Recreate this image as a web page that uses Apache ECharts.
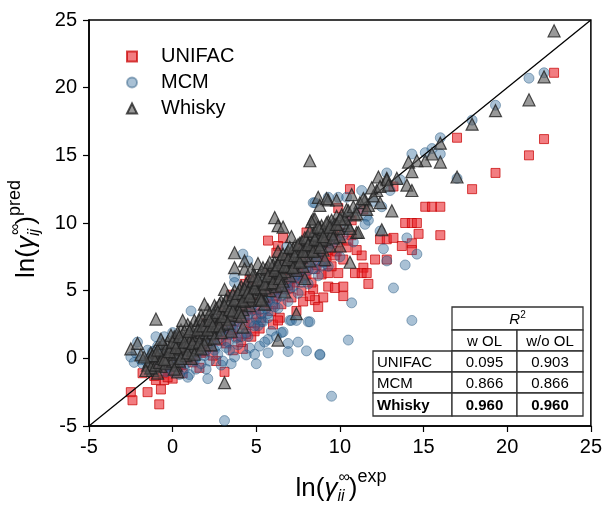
<!DOCTYPE html>
<html>
<head>
<meta charset="utf-8">
<script src="https://cdn.jsdelivr.net/npm/echarts@6/dist/echarts.min.js"></script>
<style>
  html, body { margin: 0; padding: 0; background: #fff; }
  #chart { width: 605px; height: 507px; }
</style>
</head>
<body>
<div id="chart"></div>
<script>
// Axis ranges and ticks
const axisMin = -5;
const axisMax = 25;
const axisStep = 5;

// Series names
const seriesNames = ['UNIFAC', 'MCM', 'Whisky'];

// UNIFAC predictions: [ln γ exp, ln γ pred]
const unifacPts = [
  [22.8,21.1],[22.2,16.2],[21.3,15.0],[19.3,13.7],[17.9,12.5],[17.0,16.3],[15.1,11.2],[15.5,11.2],[16.0,11.2],
  [10.6,12.5],[13.2,12.7],[13.9,10.0],[14.3,10.0],[14.6,10.0],[12.4,8.8],[12.8,8.8],[13.2,8.9],[14.7,9.2],
  [16.0,9.1],[13.7,8.3],[14.3,8.5],[14.3,8.0],[11.3,7.6],[12.1,7.3],[12.8,7.3],[11.4,6.7],[10.9,6.3],[11.3,6.3],
  [11.6,6.3],[11.7,5.5],[9.3,6.3],[9.9,6.3],[9.3,5.3],[9.7,5.2],[10.2,5.3],[10.2,4.6],[8.4,5.1],[9.0,4.5],
  [8.5,4.3],[8.7,3.8],[7.8,4.2],[9.9,11.1],[10.7,10.2],[11.4,11.0],[5.7,8.7],[6.6,8.9],[6.3,8.3],[6.2,7.8],
  [8.0,9.3],[6.0,2.5],[4.2,0.7],[4.7,1.6],[3.5,4.7],[3.1,-1.0],[4.3,5.5],[4.6,5.8],[4.8,5.3],
  [-1.8,-1.1],[-2.5,-2.5],[-2.4,-3.1],[-1.5,-2.5],[-0.7,-2.3],[-0.8,-3.4],[-1.0,-1.6],[-0.5,-1.6],[0.0,-1.5],
  [-1.3,-0.9],[-1.1,-1.3],[-0.9,-0.6],[-0.6,-1.1],[-0.4,-0.3],[-0.2,-0.9],[0.1,-0.2],[0.3,0.6],[0.5,-0.5],
  [0.7,0.3],[0.9,1.0],[1.1,0.0],[1.3,0.8],[1.5,1.5],[1.7,0.4],[1.9,1.2],[2.1,2.0],[2.3,0.9],[2.5,1.7],
  [2.7,2.5],[2.9,1.3],[3.1,2.2],[3.3,3.0],[3.5,1.8],[3.7,2.7],[3.9,3.5],[4.1,1.2],[4.3,3.1],[4.5,4.0],
  [4.7,2.6],[4.9,3.6],[5.1,4.5],[5.3,3.0],[5.5,4.1],[5.7,5.0],[5.9,3.5],[6.1,4.6],[6.3,5.5],[6.5,4.0],
  [6.7,5.1],[6.9,6.0],[7.1,4.5],[7.3,5.6],[7.5,6.5],[7.7,5.0],[7.9,6.1],[8.1,7.0],[8.3,5.6],[8.5,6.6],
  [8.7,7.5],[8.9,6.2],[9.1,7.1],[9.3,8.0],[9.5,6.8],[9.7,7.6],[9.9,8.6],[10.2,7.3],[10.4,8.2],[10.7,9.1],
  [11.0,8.0],[3.6,0.6],[2.6,-0.2],[1.6,-0.7],[4.4,1.8],[5.2,2.2],[6.4,3.0],[7.4,3.5],[8.2,4.6],[5.8,6.2],
  [4.6,5.0],[3.0,3.4],[6.8,7.3],[7.8,8.1],[2.0,2.6],[0.0,0.4],
  [1.0,0.6],[1.4,1.1],[1.8,1.7],[2.2,1.6],[2.6,2.2],[3.0,2.7],[3.4,2.7],[3.8,3.3],[4.0,3.7],[4.2,4.0],
  [4.4,3.6],[4.6,4.4],[4.8,4.2],[5.0,4.8],[5.2,4.7],[5.4,5.2],[5.6,4.9],[5.8,5.5],[6.0,5.4],[6.2,6.0],
  [6.4,5.8],[6.6,6.3],[6.8,6.1],[7.0,6.7],[7.2,6.4],[7.4,7.0],[7.6,6.9],[7.8,7.3],[8.0,7.4],[8.2,7.8],
  [8.4,7.7],[8.6,8.2],[8.8,8.0],[9.0,8.6],[9.2,8.5],[9.4,9.0],[9.6,8.9],[9.8,9.5],[10.0,9.3],[0.6,-1.1],
  [-0.3,-1.4],[0.3,-0.8],[1.2,-0.3],[2.4,0.2],[3.2,1.1],[3.9,1.6],[4.9,2.0],[6.3,2.8],[6.0,4.0],[7.0,5.2],
  [1.9,0.5],[2.8,1.9],[3.6,2.1],[4.3,2.5],[5.0,3.3],[5.6,3.9],[6.2,4.8],[6.9,5.4],[7.5,5.9],[8.0,6.2],
  [8.6,6.9],[9.2,7.5],[9.8,7.9],[10.5,8.7],[-0.8,-0.3],[-0.1,-0.5],[0.8,0.0],[1.3,1.4],[2.3,1.3],[3.3,2.3]
];

// MCM predictions
const mcmPts = [
  [22.2,21.1],[21.3,20.7],[19.3,18.7],[17.9,17.6],[16.0,16.3],[16.0,15.1],[15.1,15.2],[15.5,15.5],[14.3,15.1],
  [12.8,13.7],[17.0,13.3],[8.4,11.5],[9.3,11.9],[9.9,11.9],[10.4,11.9],[11.3,12.4],[11.6,10.5],[11.7,10.2],
  [12.4,9.4],[12.6,8.1],[12.8,7.2],[13.9,6.9],[14.0,8.9],[14.6,7.7],[13.2,5.2],[10.7,4.1],[8.1,2.7],[14.3,2.8],
  [10.5,1.35],[8.0,0.55],[8.8,0.25],[9.5,-2.8],[7.5,1.2],[6.9,0.5],[5.7,0.4],[5.0,-0.4],[6.6,1.95],[5.9,2.0],
  [5.3,2.7],[5.7,3.3],[7.0,2.8],[7.4,2.8],[5.7,1.4],[5.2,0.9],[4.6,0.76],[4.4,0.25],[3.7,0.1],[3.1,-4.6],
  [2.1,-1.5],[1.1,3.5],[-2.5,0.1],[-2.1,1.2],[-1.0,1.6],[0.0,1.9],[4.2,7.7],[4.5,7.2],[3.7,6.0],[3.7,5.6],
  [8.5,11.5],[6.8,8.2],[8.2,2.7],[7.1,2.8],[5.4,2.7],[6.5,1.9],[6.9,1.1],[8.8,0.3],
  [-1.8,-0.4],[-1.5,0.6],[-1.3,-0.9],[-1.1,0.2],[-0.8,-0.5],[-0.6,0.9],[-0.4,-1.0],[-0.2,0.3],[0.1,-0.6],
  [0.3,1.1],[0.5,0.0],[0.7,-0.8],[0.9,0.8],[1.1,1.8],[1.3,-0.2],[1.5,0.9],[1.7,2.2],[1.9,0.2],[2.1,1.5],
  [2.3,2.8],[2.5,0.6],[2.7,1.9],[2.9,-0.5],[3.1,3.0],[3.3,1.2],[3.5,2.4],[3.7,3.6],[3.9,1.0],[4.1,2.9],
  [4.3,4.3],[4.5,1.6],[4.7,3.5],[4.9,5.0],[5.1,2.4],[5.3,4.2],[5.5,5.6],[5.7,3.0],[5.9,4.8],[6.1,6.2],
  [6.3,3.7],[6.5,5.4],[6.7,6.8],[6.9,4.2],[7.1,6.0],[7.3,7.4],[7.5,4.8],[7.7,6.6],[7.9,8.0],[8.1,5.5],
  [8.3,7.2],[8.5,8.6],[8.7,6.1],[8.9,7.9],[9.1,9.2],[9.3,6.8],[9.5,8.5],[9.7,9.8],[10.0,7.5],[10.2,9.1],
  [10.5,10.4],[10.8,8.6],[11.1,10.9],[11.5,9.9],[12.0,11.6],[12.5,11.2],[13.0,12.4],[13.6,13.2],[1.0,-1.2],
  [2.0,-0.8],[3.0,-0.2],[0.0,-1.0],[-0.5,1.6],[2.6,3.4],[3.6,4.4],[4.4,5.2],
  [-1.6,-0.2],[-1.2,0.5],[-0.9,-0.2],[-0.7,0.4],[-0.3,-0.6],[0.0,0.0],[0.2,0.6],[0.4,-0.3],[0.6,0.4],
  [0.8,-0.4],[1.0,0.4],[1.2,1.0],[1.4,0.1],[1.6,0.6],[1.8,1.3],[2.0,0.6],[2.2,1.1],[2.4,1.9],[2.6,0.9],
  [2.8,1.5],[3.0,2.3],[3.2,0.8],[3.4,1.8],[3.6,2.9],[3.8,1.5],[4.0,2.2],[4.2,3.4],[4.4,1.9],[4.6,2.7],
  [4.8,4.0],[5.0,2.9],[5.2,3.6],[5.4,4.6],[5.6,3.7],[5.8,4.2],[6.0,5.2],[6.2,4.4],[6.4,5.9],[6.6,4.9],
  [6.8,5.5],[7.0,6.6],[7.2,5.3],[7.4,6.2],[7.6,7.0],[7.8,5.9],[8.0,7.0],[8.2,7.8],[8.4,6.6],[8.6,7.6],
  [8.8,8.4],[9.0,7.1],[9.4,9.0],[9.8,8.8],[10.4,9.6],[-2.3,-0.3],[-2.2,0.4],[-1.9,-0.1],[0.9,-1.4],
  [1.7,-0.4],[2.7,0.3],[3.4,0.6],[4.9,0.3],[5.5,1.2],[6.2,1.6],
  [-1.4,0.0],[-0.9,0.9],[-0.3,0.6],[0.2,-0.2],[0.6,1.2],[1.2,0.4],[1.6,1.4],[2.0,1.9],[2.4,1.3],[2.9,2.0],
  [3.3,2.0],[3.7,2.3],[4.1,1.6],[4.5,3.2],[4.9,2.4],[5.3,3.3],[5.7,4.2],[6.1,3.8],[6.5,4.6],[6.9,5.1],
  [7.3,6.0],[7.7,5.6],[8.1,6.5],[8.5,7.2],[8.9,6.8],[9.3,8.2],[0.4,-1.2],[1.4,-0.8],[2.2,-0.2],[3.5,-0.4]
];

// Whisky predictions
const whiskyPts = [
  [22.8,24.2],[22.2,20.8],[21.3,19.1],[19.3,18.3],[17.9,17.3],[16.0,15.9],[16.0,14.5],[15.5,15.1],[15.1,14.6],
  [14.6,14.6],[14.1,14.5],[14.3,13.8],[17.0,13.4],[8.2,14.6],[12.3,13.4],[12.8,13.3],[14.0,12.8],[14.3,12.4],
  [13.1,10.9],[12.4,11.5],[8.7,11.9],[9.3,11.7],[9.8,11.7],[8.4,10.3],[10.7,12.1],[11.0,9.3],[12.5,9.5],
  [6.1,10.4],[6.3,9.8],[6.6,9.7],[3.7,7.8],[3.7,6.7],[4.3,7.2],[4.3,6.6],[7.4,3.3],[6.3,1.35],[4.2,2.3],
  [-1.0,2.9],[3.1,-1.8],[-2.5,0.7],[-2.1,1.1],[-1.9,0.25],[11.5,11.7],[11.7,11.3],[12.2,12.4],[12.8,13.2],
  [10.5,9.8],[11.1,9.3],[10.6,7.1],[10.0,8.3],[8.8,11.3],[9.2,11.8],[8.5,10.3],[-1.3,-0.7],
  [-1.5,-0.5],[-1.3,0.4],[-1.2,-0.9],[-1.0,0.0],[-0.8,0.8],[-0.7,-0.6],[-0.5,0.3],[-0.3,1.2],[-0.2,-0.3],
  [0.0,0.6],[0.1,1.6],[0.2,-0.5],[0.4,1.0],[0.5,2.1],[0.6,0.3],[0.8,1.4],[0.9,2.5],[1.0,0.7],[1.2,1.8],
  [1.3,2.8],[1.4,1.0],[1.6,2.2],[1.7,3.2],[1.8,1.4],[2.0,2.5],[2.1,3.6],[2.2,1.8],[2.4,2.9],[2.5,3.9],
  [2.6,2.1],[2.8,3.2],[2.9,4.2],[3.0,2.5],[3.2,3.6],[3.3,4.6],[3.4,2.9],[3.6,4.0],[3.7,5.0],[3.8,3.2],
  [4.0,4.3],[4.1,5.3],[4.2,3.6],[4.4,4.7],[4.5,5.7],[4.6,3.9],[4.8,5.0],[4.9,6.1],[5.0,4.3],[5.2,5.4],
  [5.3,6.4],[5.4,4.6],[5.6,5.8],[5.7,6.8],[5.8,5.0],[6.0,6.1],[6.1,7.1],[6.2,5.3],[6.4,6.5],[6.5,7.5],
  [6.6,5.7],[6.8,6.9],[6.9,7.9],[7.0,6.1],[7.2,7.3],[7.3,8.3],[7.4,6.5],[7.6,7.6],[7.7,8.6],[7.8,6.8],
  [8.0,8.0],[8.1,9.0],[8.2,7.2],[8.4,8.4],[8.5,9.4],[8.6,7.6],[8.8,8.8],[8.9,9.8],[9.0,8.0],[9.2,9.1],
  [9.3,10.1],[9.4,8.3],[9.6,9.5],[9.8,10.5],[10.0,9.0],[10.2,10.0],[10.4,11.0],[10.6,9.6],[10.9,10.6],
  [11.2,11.5],[11.6,11.0],[12.0,12.0],[0.3,-1.0],[1.1,0.0],[2.3,1.0],[3.5,2.0],[-0.9,-1.1],[5.5,4.0],
  [6.7,4.9],[7.9,5.9],[9.1,7.3],[4.7,6.6],[3.1,5.1],[1.9,4.0],[0.6,2.8],[8.3,10.1],[7.1,9.0],[6.3,7.9],[5.1,7.0],
  [-1.4,-0.2],[-1.3,-0.7],[-1.1,0.5],[-1.0,-0.5],[-0.9,0.2],[-0.8,-0.3],[-0.6,1.1],[-0.6,0.0],[-0.4,-0.4],
  [-0.4,0.7],[-0.3,0.0],[-0.1,0.9],[-0.1,1.7],[0.0,-0.2],[0.1,0.3],[0.2,1.2],[0.3,0.4],[0.3,1.9],[0.4,-0.2],
  [0.5,0.7],[0.6,1.5],[0.7,0.9],[0.7,2.0],[0.8,0.2],[0.9,1.7],[1.0,1.2],[1.1,2.2],[1.2,0.6],[1.3,1.4],
  [1.4,2.4],[1.5,1.7],[1.5,0.8],[1.6,2.8],[1.7,1.9],[1.8,2.9],[1.9,2.2],[2.0,1.4],[2.1,2.8],[2.2,3.3],
  [2.3,2.3],[2.4,1.9],[2.5,3.1],[2.6,3.7],[2.7,2.6],[2.8,4.0],[2.9,3.0],[3.0,3.7],[3.1,2.9],[3.2,4.3],
  [3.3,3.3],[3.4,4.1],[3.5,3.2],[3.6,4.7],[3.7,3.8],[3.8,4.4],[3.9,3.6],[4.0,5.1],[4.1,4.0],[4.2,4.8],
  [4.3,4.2],[4.4,5.5],[4.5,4.5],[4.6,5.2],[4.7,4.3],[4.8,5.7],[4.9,4.8],[5.0,5.6],[5.1,4.9],[5.2,6.2],
  [5.3,5.1],[5.4,5.9],[5.5,5.2],[5.6,6.6],[5.7,5.6],[5.8,6.3],[5.9,5.5],[6.0,6.9],[6.1,5.9],[6.2,6.7],
  [6.3,6.0],[6.4,7.3],[6.5,6.3],[6.6,7.1],[6.7,6.4],[6.8,7.7],[6.9,6.7],[7.0,7.5],[7.1,6.8],[7.2,8.1],
  [7.3,7.1],[7.4,7.9],[7.5,7.2],[7.6,8.5],[7.7,7.5],[7.8,8.3],[7.9,7.6],[8.0,8.8],[8.1,7.9],[8.2,8.7],
  [8.3,8.0],[8.4,9.2],[8.5,8.3],[8.6,9.1],[8.7,8.4],[8.8,9.6],[8.9,8.7],[9.0,9.5],[9.1,8.8],[9.3,9.4],
  [9.5,9.2],[9.5,10.2],[9.7,9.9],[9.9,9.6],[10.1,10.6],[10.3,10.3],[10.5,10.9],[10.8,11.2],[11.0,10.7],
  [11.4,11.8],[11.9,12.6],[12.4,12.7],[12.9,12.8],[13.4,13.3],
  [-1.2,0.2],[-0.9,0.6],[-0.7,1.4],[-0.5,-0.1],[-0.2,0.5],[0.0,1.2],[0.2,0.8],[0.4,1.6],[0.5,0.0],[0.7,1.2],
  [0.9,0.4],[1.0,2.0],[1.2,1.1],[1.3,0.3],[1.5,2.1],[1.6,1.2],[1.8,2.4],[1.9,1.0],[2.1,2.1],[2.2,2.8],
  [2.4,2.4],[2.5,1.5],[2.7,3.4],[2.8,2.4],[3.0,3.1],[3.1,3.9],[3.3,2.6],[3.4,3.6],[3.6,3.5],[3.7,4.3],
  [3.9,4.8],[4.0,3.4],[4.2,4.3],[4.3,5.1],[4.5,4.9],[4.6,4.6],[4.8,6.1],[4.9,5.2],[5.1,5.8],[5.2,4.4],
  [5.4,6.7],[5.5,5.5],[5.7,6.1],[5.8,7.1],[6.0,5.6],[6.1,6.5],[6.3,6.9],[6.4,5.9],[6.6,7.7],[6.7,6.8],
  [6.9,7.3],[7.0,8.2],[7.2,6.7],[7.3,7.6],[7.5,8.4],[7.6,7.1],[7.8,7.9],[7.9,8.9],[8.1,8.4],[8.2,9.4],
  [8.4,7.9],[8.5,8.8],[8.7,9.7],[8.8,8.2],[9.0,9.0],[9.2,10.0],[9.4,9.7],[9.6,8.9],[9.8,9.9],[10.0,10.3],
  [-1.6,-0.9],[-1.7,0.1],[0.1,-0.8],[1.7,0.7],[2.9,1.9],[4.1,3.1],[5.3,4.3],[6.5,5.4]
];

// Parity line end points
const parityLine = [[axisMin, axisMin], [axisMax, axisMax]];

// R² summary table
const tableHeader = ['w OL', 'w/o OL'];
const tableRows = [
  ['UNIFAC', '0.095', '0.903'],
  ['MCM', '0.866', '0.866'],
  ['Whisky', '0.960', '0.960']
];

const FONT = '"Liberation Sans", Arial, Helvetica, sans-serif';

// ---------- R² table (graphic elements) ----------
const colX = [373, 452, 517, 583];
const rowY = [307, 330, 351, 372, 393, 416];

function cellRect(x0, y0, x1, y1) {
  return {
    type: 'rect',
    shape: { x: x0, y: y0, width: x1 - x0, height: y1 - y0 },
    style: { fill: '#fff', stroke: '#333', lineWidth: 1.3 },
    z: 100
  };
}
function cellText(txt, x, y, align, bold, rich) {
  const t = {
    type: 'text',
    x: x, y: y,
    style: {
      text: txt, fill: '#000', font: (bold ? 'bold ' : '') + '15px ' + FONT,
      align: align, verticalAlign: 'middle'
    },
    z: 101
  };
  if (rich) t.style.rich = rich;
  return t;
}

const tableEls = [];
tableEls.push(cellRect(colX[1], rowY[0], colX[3], rowY[1]));
tableEls.push(cellText('{r|R}{s|2}', (colX[1] + colX[3]) / 2, (rowY[0] + rowY[1]) / 2 + 1, 'center', false, {
  r: { fontSize: 15, fontStyle: 'italic', fontFamily: FONT },
  s: { fontSize: 10, fontFamily: FONT, padding: [0, 0, 8, 0] }
}));
tableHeader.forEach((h, i) => {
  tableEls.push(cellRect(colX[i + 1], rowY[1], colX[i + 2], rowY[2]));
  tableEls.push(cellText(h, (colX[i + 1] + colX[i + 2]) / 2, (rowY[1] + rowY[2]) / 2 + 1, 'center', false));
});
tableRows.forEach((row, r) => {
  const bold = r === tableRows.length - 1;
  const y0 = rowY[r + 2], y1 = rowY[r + 3];
  row.forEach((v, c) => {
    tableEls.push(cellRect(colX[c], y0, colX[c + 1], y1));
    if (c === 0) {
      tableEls.push(cellText(v, colX[0] + 4, (y0 + y1) / 2 + 1, 'left', bold));
    } else {
      tableEls.push(cellText(v, (colX[c] + colX[c + 1]) / 2, (y0 + y1) / 2 + 1, 'center', bold));
    }
  });
});

// ---------- axis titles with stacked sub/superscripts ----------
const measureCtx = document.createElement('canvas').getContext('2d');
function fontOf(p) { return (p.it ? 'italic ' : '') + p.s + 'px ' + FONT; }
function widthOf(p) { measureCtx.font = fontOf(p); return measureCtx.measureText(p.t).width; }

function buildTitle(parts, pos, rotation) {
  let total = 0;
  const widths = parts.map(p => {
    const w = p.stack ? Math.max.apply(null, p.stack.map(widthOf)) : widthOf(p);
    total += w;
    return w;
  });
  let x = -total / 2;
  const children = [];
  parts.forEach((p, i) => {
    const items = p.stack || [p];
    items.forEach(q => {
      children.push({
        type: 'text', x: x + (q.dx || 0), y: q.dy || 0,
        style: { text: q.t, font: fontOf(q), fill: '#000', align: 'left', verticalAlign: 'middle' }
      });
    });
    x += widths[i];
  });
  return { type: 'group', x: pos[0], y: pos[1], rotation: rotation, children: children, z: 50 };
}

const xTitleParts = [
  { t: 'ln(', s: 26 },
  { t: 'γ', s: 26, it: true },
  { stack: [{ t: 'ii', s: 16, it: true, dy: 8 }, { t: '∞', s: 16, dy: -11, dx: 1 }] },
  { t: ')', s: 26 },
  { t: 'exp', s: 18, dy: -12 }
];
const yTitleParts = [
  { t: 'ln(', s: 26 },
  { t: 'γ', s: 26, it: true },
  { stack: [{ t: 'ij', s: 16, it: true, dy: 8 }, { t: '∞', s: 16, dy: -11, dx: 1 }] },
  { t: ')', s: 26 },
  { t: 'pred', s: 18, dy: -12 }
];

const titleEls = [
  buildTitle(xTitleParts, [341, 489], 0),
  buildTitle(yTitleParts, [27, 229], Math.PI / 2)
];

// ---------- chart ----------
const chart = echarts.init(document.getElementById('chart'), null, { renderer: 'canvas' });

const axisCommon = {
  type: 'value',
  min: axisMin,
  max: axisMax,
  interval: axisStep,
  axisLine: { show: true, onZero: false, lineStyle: { color: '#000', width: 1.5 } },
  axisTick: { show: true, length: 6, lineStyle: { color: '#000', width: 1.2 } },
  axisLabel: { color: '#000', fontSize: 20, fontFamily: FONT },
  splitLine: { show: false }
};

chart.setOption({
  animation: false,
  backgroundColor: '#fff',
  grid: {
    left: 89, right: 12, top: 20, bottom: 81,
    show: true, borderColor: '#000', borderWidth: 1.5, backgroundColor: 'transparent'
  },
  legend: {
    data: seriesNames,
    orient: 'vertical',
    left: 121,
    top: 41,
    itemWidth: 10,
    itemHeight: 10,
    itemGap: 5,
    textStyle: { fontSize: 20, fontFamily: FONT, color: '#000', lineHeight: 21, padding: [0, 0, 0, 19] }
  },
  xAxis: Object.assign({}, axisCommon, {
    axisLabel: Object.assign({}, axisCommon.axisLabel, { margin: 11 })
  }),
  yAxis: Object.assign({}, axisCommon, {
    axisLabel: Object.assign({}, axisCommon.axisLabel, { margin: 12 })
  }),
  graphic: tableEls.concat(titleEls),
  series: [
    {
      name: 'UNIFAC',
      type: 'scatter',
      symbol: 'rect',
      symbolSize: 9,
      data: unifacPts,
      itemStyle: { color: 'rgba(232,30,36,0.72)', borderColor: 'rgba(200,0,0,0.9)', borderWidth: 1 },
      z: 2
    },
    {
      name: 'MCM',
      type: 'scatter',
      symbol: 'circle',
      symbolSize: 10,
      data: mcmPts,
      itemStyle: { color: 'rgba(40,100,150,0.5)', borderColor: 'rgba(30,80,120,0.55)', borderWidth: 1 },
      z: 3
    },
    {
      name: 'parity',
      type: 'line',
      data: parityLine,
      symbol: 'none',
      lineStyle: { color: '#000', width: 1.3 },
      silent: true,
      z: 4
    },
    {
      name: 'Whisky',
      type: 'scatter',
      symbol: 'triangle',
      symbolSize: 12,
      data: whiskyPts,
      itemStyle: { color: 'rgba(85,85,85,0.75)', borderColor: '#222', borderWidth: 1.2 },
      z: 5
    }
  ]
});
</script>
</body>
</html>
